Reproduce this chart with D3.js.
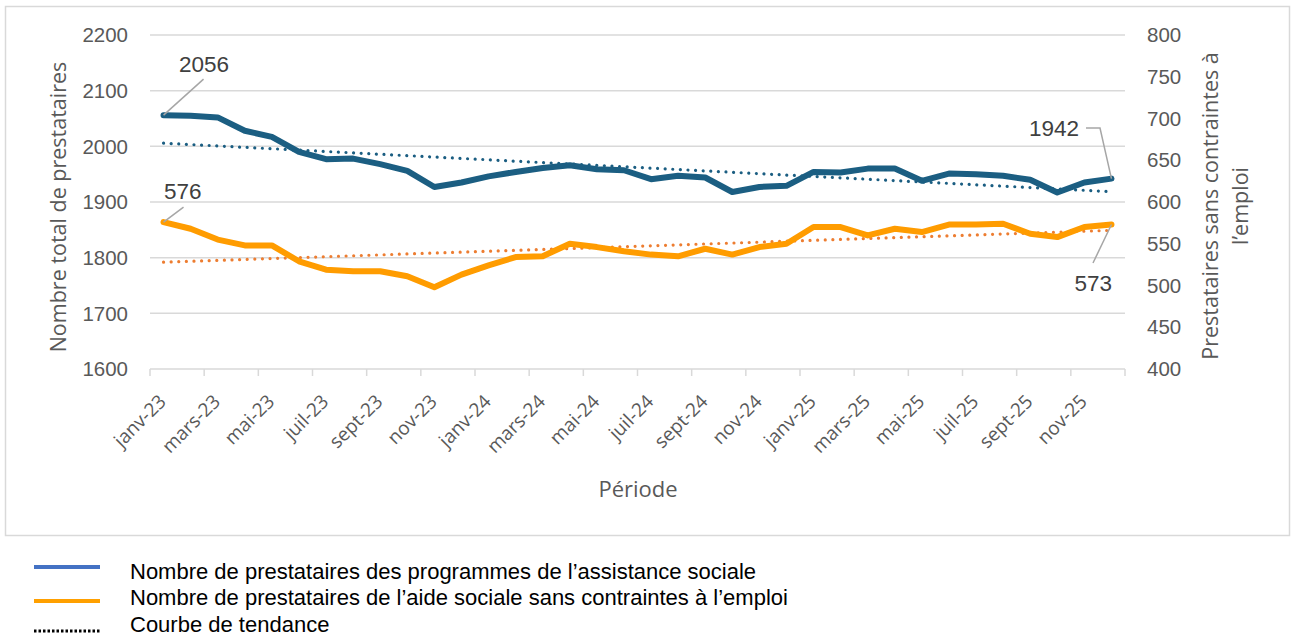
<!DOCTYPE html>
<html>
<head>
<meta charset="utf-8">
<script src="https://cdn.jsdelivr.net/npm/d3@7"></script>
<style>
  body { margin: 0; background: #fff; }
  svg text { fill: #595959; }
</style>
</head>
<body>
<script>
// months shown on the x axis (one point per month, jan-23 .. dec-25)
var months = ["janv-23","févr-23","mars-23","avr-23","mai-23","juin-23","juil-23","août-23","sept-23","oct-23","nov-23","déc-23",
              "janv-24","févr-24","mars-24","avr-24","mai-24","juin-24","juil-24","août-24","sept-24","oct-24","nov-24","déc-24",
              "janv-25","févr-25","mars-25","avr-25","mai-25","juin-25","juil-25","août-25","sept-25","oct-25","nov-25","déc-25"];

// total number of recipients (left axis)
var totalRecipients = [2056,2055,2052,2028,2017,1990,1977,1978,1968,1956,1927,1935,
                       1946,1954,1961,1966,1959,1957,1941,1947,1944,1918,1927,1929,
                       1954,1953,1960,1960,1938,1951,1950,1947,1940,1917,1935,1942];

// recipients without employment constraints (right axis)
var noConstraint = [576,568,555,548,548,529,519,517,517,511,498,513,
                    524,534,535,550,546,541,537,535,544,537,546,550,
                    570,570,560,568,564,573,573,574,562,558,570,573];

var leftTicks = [1600,1700,1800,1900,2000,2100,2200];
var rightTicks = [400,450,500,550,600,650,700,750,800];

var width = 1296, height = 636;
var blue = "#1b5e82", orange = "#ff9c00", trendOrange = "#ed7d31";

var svg = d3.select("body").append("svg")
    .attr("width", width)
    .attr("height", height);

// chart frame
svg.append("rect")
    .attr("x", 5.5).attr("y", 6.5)
    .attr("width", 1284).attr("height", 529)
    .attr("fill", "none")
    .attr("stroke", "#d9d9d9")
    .attr("stroke-width", 1.5);

var x = d3.scaleBand().domain(months).range([150, 1125]);
var cx = function(m) { return x(m) + x.bandwidth() / 2; };
var yLeft = d3.scaleLinear().domain([1600, 2200]).range([369, 35]);
var yRight = d3.scaleLinear().domain([400, 800]).range([369, 35]);

// gridlines
svg.append("g").selectAll("line")
    .data(leftTicks.slice(1))
    .enter().append("line")
    .attr("x1", 150).attr("x2", 1125)
    .attr("y1", function(d) { return yLeft(d); })
    .attr("y2", function(d) { return yLeft(d); })
    .attr("stroke", "#d9d9d9").attr("stroke-width", 1.5);

// x axis line and ticks every 2 months
svg.append("line")
    .attr("x1", 150).attr("x2", 1125)
    .attr("y1", yLeft(1600)).attr("y2", yLeft(1600))
    .attr("stroke", "#d9d9d9").attr("stroke-width", 1.5);

var tickMonths = months.filter(function(d, i) { return i % 2 === 0; });
svg.append("g").selectAll("line")
    .data(tickMonths.concat(["end"]))
    .enter().append("line")
    .attr("x1", function(d) { return d === "end" ? 1125 : x(d); })
    .attr("x2", function(d) { return d === "end" ? 1125 : x(d); })
    .attr("y1", 369).attr("y2", 376)
    .attr("stroke", "#d9d9d9").attr("stroke-width", 1.5);

// x labels, rotated
svg.append("g").selectAll("text")
    .data(tickMonths)
    .enter().append("text")
    .attr("transform", function(d) { return "translate(" + (cx(d) - 1) + ",398) rotate(-45)"; })
    .attr("text-anchor", "end")
    .attr("dy", "0.35em")
    .style("font-family", "'Open Sans', sans-serif")
    .style("font-size", "19px")
    .text(function(d) { return d; });

// y tick labels
svg.append("g").selectAll("text")
    .data(leftTicks)
    .enter().append("text")
    .attr("x", 128)
    .attr("y", function(d) { return yLeft(d); })
    .attr("dy", "0.35em")
    .attr("text-anchor", "end")
    .style("font-family", "'Liberation Sans', Arial, sans-serif")
    .style("font-size", "20.5px")
    .text(function(d) { return d; });

svg.append("g").selectAll("text")
    .data(rightTicks)
    .enter().append("text")
    .attr("x", 1147)
    .attr("y", function(d) { return yRight(d); })
    .attr("dy", "0.35em")
    .attr("text-anchor", "start")
    .style("font-family", "'Liberation Sans', Arial, sans-serif")
    .style("font-size", "20.5px")
    .text(function(d) { return d; });

// axis titles
var titleFont = "'Open Sans', sans-serif";
svg.append("text")
    .attr("transform", "translate(66,207) rotate(-90)")
    .attr("text-anchor", "middle")
    .style("font-family", titleFont).style("font-size", "21.5px")
    .text("Nombre total de prestataires");

svg.append("text")
    .attr("transform", "translate(1218,206) rotate(-90)")
    .attr("text-anchor", "middle")
    .style("font-family", titleFont).style("font-size", "21.5px")
    .text("Prestataires sans contraintes à");
svg.append("text")
    .attr("transform", "translate(1248,206) rotate(-90)")
    .attr("text-anchor", "middle")
    .style("font-family", titleFont).style("font-size", "21.5px")
    .text("l’emploi");

svg.append("text")
    .attr("x", 638).attr("y", 497)
    .attr("text-anchor", "middle")
    .style("font-family", titleFont).style("font-size", "22px")
    .text("Période");

// linear trend from the series itself
function trend(values) {
    var n = values.length, idx = d3.range(n);
    var mx = d3.mean(idx), my = d3.mean(values);
    var num = d3.sum(idx, function(i) { return (i - mx) * (values[i] - my); });
    var den = d3.sum(idx, function(i) { return (i - mx) * (i - mx); });
    var b = num / den, a = my - b * mx;
    return values.map(function(v, i) { return a + b * i; });
}

function drawSeries(values, scale, color, trendColor) {
    var line = d3.line()
        .x(function(d, i) { return cx(months[i]); })
        .y(function(d) { return scale(d); });
    svg.append("path")
        .datum(trend(values))
        .attr("d", line)
        .attr("fill", "none")
        .attr("stroke", trendColor)
        .attr("stroke-width", 3.2)
        .attr("stroke-linecap", "round")
        .attr("stroke-dasharray", "0.01 7.6");
    svg.append("path")
        .datum(values)
        .attr("d", line)
        .attr("fill", "none")
        .attr("stroke", color)
        .attr("stroke-width", 6)
        .attr("stroke-linejoin", "round")
        .attr("stroke-linecap", "round");
}

drawSeries(totalRecipients, yLeft, blue, blue);
drawSeries(noConstraint, yRight, orange, trendOrange);

// data labels with leader lines
var labelFont = "'Liberation Sans', Arial, sans-serif";
function leader(points) {
    svg.append("path")
        .attr("d", d3.line()(points))
        .attr("fill", "none")
        .attr("stroke", "#a6a6a6")
        .attr("stroke-width", 1.5);
}
function dataLabel(tx, ty, anchor, txt) {
    svg.append("text")
        .attr("x", tx).attr("y", ty)
        .attr("text-anchor", anchor)
        .style("font-family", labelFont).style("font-size", "22.5px")
        .style("fill", "#404040")
        .text(txt);
}

var first = months[0], last = months[months.length - 1];
var n = months.length - 1;

leader([[cx(first), yLeft(totalRecipients[0])], [cx(first) + 40, yLeft(totalRecipients[0]) - 36]]);
dataLabel(179, 72, "start", totalRecipients[0]);

leader([[cx(first), yRight(noConstraint[0])], [cx(first) + 20, yRight(noConstraint[0]) - 15]]);
dataLabel(164, 199, "start", noConstraint[0]);

leader([[cx(last), yLeft(totalRecipients[n])], [1100, 128], [1086, 128]]);
dataLabel(1079, 136, "end", totalRecipients[n]);

leader([[cx(last), yRight(noConstraint[n])], [1093, 263]]);
dataLabel(1112, 291, "end", noConstraint[n]);

// legend
var legendItems = [
    { label: "Nombre de prestataires des programmes de l’assistance sociale", color: "#4472c4", dash: null, lineY: 567 },
    { label: "Nombre de prestataires de l’aide sociale sans contraintes à l’emploi", color: "#ffa000", dash: null, lineY: 601 },
    { label: "Courbe de tendance", color: "#000", dash: "2.5 2", lineY: 631 }
];
var legend = svg.append("g").selectAll("g")
    .data(legendItems)
    .enter().append("g");
legend.append("line")
    .attr("x1", 34).attr("x2", 100)
    .attr("y1", function(d) { return d.lineY; })
    .attr("y2", function(d) { return d.lineY; })
    .attr("stroke", function(d) { return d.color; })
    .attr("stroke-width", function(d) { return d.dash ? 3 : 4; })
    .attr("stroke-dasharray", function(d) { return d.dash; });
legend.append("text")
    .attr("x", 130)
    .attr("y", function(d, i) { return 571 + i * 26.5; })
    .attr("dy", "0.35em")
    .style("font-family", "'Liberation Sans', Arial, sans-serif")
    .style("font-size", "22px")
    .style("fill", "#000")
    .text(function(d) { return d.label; });
</script>
</body>
</html>
